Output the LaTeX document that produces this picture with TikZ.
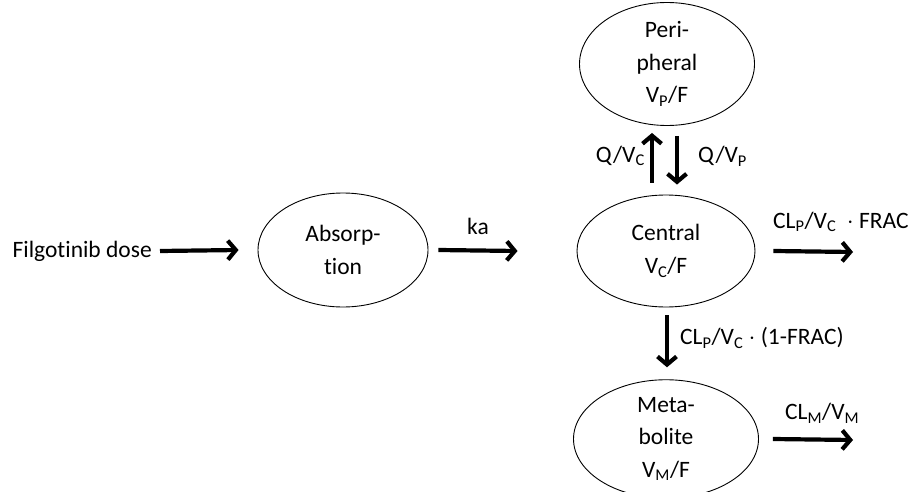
\documentclass[tikz,border=0pt]{standalone}
\usepackage{fontspec}
\setmainfont{Carlito}[Ligatures={NoCommon}]
\usetikzlibrary{shapes.geometric,arrows.meta}
\newcommand{\sbs}[1]{\textsubscript{#1}}
\begin{document}
\begin{tikzpicture}[x=1pt,y=-1pt,
  comp/.style={draw,ellipse,line width=0.9pt,inner sep=0pt,align=center,font=\fontsize{23.5}{32.5}\selectfont},
  flow/.style={line width=4.2pt,-{Straight Barb[length=8pt,width=19pt]}},
  lbl/.style={font=\fontsize{23.5}{26}\selectfont,inner sep=0pt}]
\useasboundingbox (0,0) rectangle (921,492);
\node[comp,minimum width=175pt,minimum height=123pt] (per) at (667,64) {Peri-\\pheral\\V\sbs{P}/F};
\node[comp,minimum width=178pt,minimum height=112pt] (cen) at (666,251) {Central\\V\sbs{C}/F};
\node[comp,minimum width=185pt,minimum height=108pt] (met) at (666,439) {Meta-\\bolite\\V\sbs{M}/F};
\node[comp,minimum width=170pt,minimum height=114pt] (abs) at (343,250) {Absorp-\\tion};
\node[lbl,anchor=east] (dose) at (152,251) {Filgotinib dose};
\coordinate (elim) at (853,252);
\coordinate (melim) at (853,440);
\draw[flow] ([xshift=8pt]dose.east) -- ([xshift=-19pt]abs.west);
\draw[flow] ([xshift=10pt]abs.east) -- ([xshift=-59pt]cen.west) node[lbl,midway,yshift=24pt] (ka) {ka};
\draw[flow] ([xshift=-14pt,yshift=12pt]cen.north) -- ([xshift=-15pt,yshift=-7pt]per.south);
\draw[flow] ([xshift=10pt,yshift=-10pt]per.south) -- ([xshift=11pt,yshift=10pt]cen.north);
\node[lbl,anchor=east] (qvc) at (645,156) {Q/V\sbs{C}};
\node[lbl,anchor=west] (qvp) at (698,156) {Q/V\sbs{P}};
\draw[flow] ([xshift=18pt]cen.east) -- (elim);
\node[lbl,anchor=west] (fr) at (773,222) {CL\sbs{P}/V\sbs{C}\ \ $\cdot$ FRAC};
\draw[flow] ([xshift=1pt,yshift=-8pt]cen.south) -- ([xshift=1pt,yshift=12pt]met.north);
\node[lbl,anchor=west] (fr1) at (680,338) {CL\sbs{P}/V\sbs{C} $\cdot$ (1-FRAC)};
\draw[flow] ([xshift=14pt]met.east) -- (melim);
\node[lbl,anchor=west] (clm) at (785,413) {CL\sbs{M}/V\sbs{M}};
\end{tikzpicture}
\end{document}
